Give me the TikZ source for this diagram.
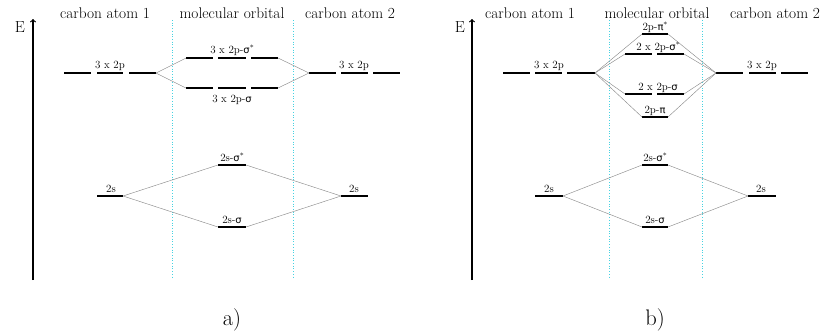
\documentclass[tikz,border=0pt]{standalone}
\usepackage{fontspec}
\newfontfamily\gk[Scale=0.9]{DejaVu Sans}
\newcommand\sig{{\gk σ}}
\newcommand\pii{{\gk π}}
\newcommand\st{\raisebox{0.55ex}{\fontsize{7.5}{8}\selectfont *}}
\newcommand\mylev[4]{\draw[lvl] (#2,#4) coordinate (#1l) -- (#3,#4) coordinate (#1r);}
\definecolor{sepcol}{RGB}{70,210,225}
\begin{document}
\begin{tikzpicture}[x=1pt,y=-1pt,
  lvl/.style={line width=1.3pt,black},
  conn/.style={black!45,line width=0.45pt},
  sep/.style={sepcol,dotted,line width=0.7pt},
  axis/.style={->,line width=1.2pt,black},
  ttl/.style={font=\fontsize{15.4}{17}\selectfont,anchor=base,inner sep=0pt},
  elab/.style={font=\fontsize{16}{18}\selectfont,inner sep=0pt},
  lab/.style={font=\fontsize{11}{12}\selectfont,anchor=base,inner sep=0pt},
  panelcap/.style={font=\fontsize{22.5}{26}\selectfont,inner sep=0pt}]
\useasboundingbox (0,0) rectangle (823,335);

% ===== panel a =====
\node[ttl] (at1) at (105,18) {carbon atom 1};
\node[ttl] (at2) at (232,18) {molecular orbital};
\node[ttl] (at3) at (350,18) {carbon atom 2};
\node[elab] (aE) at (20,27.5) {E};
\coordinate (aAxB) at (33,280); \coordinate (aAxT) at (33,19);
\draw[axis] (aAxB) -- (aAxT);
\coordinate (aS1t) at (172,20); \coordinate (aS1b) at (172,278);
\coordinate (aS2t) at (293,20); \coordinate (aS2b) at (293,278);
\draw[sep] (aS1t) -- (aS1b);
\draw[sep] (aS2t) -- (aS2b);

\mylev{aLpA}{64}{91}{73}\mylev{aLpB}{97}{123}{73}\mylev{aLpC}{129}{156}{73}
\mylev{aRpA}{309}{336}{73}\mylev{aRpB}{341}{368}{73}\mylev{aRpC}{373}{400}{73}
\mylev{aSsA}{186}{213}{58}\mylev{aSsB}{218}{246}{58}\mylev{aSsC}{251}{278}{58}
\mylev{aSA}{186}{213}{88}\mylev{aSB}{218}{246}{88}\mylev{aSC}{251}{278}{88}
\node[lab] (aLpLab) at (110,68) {3 x 2p};
\node[lab] (aRpLab) at (354,68) {3 x 2p};
\node[lab] (aSsLab) at (232,53) {3 x 2p-\sig\st};
\node[lab] (aSLab) at (232,102) {3 x 2p-\sig};
\draw[conn] (aLpCr) -- (aSsAl);
\draw[conn] (aLpCr) -- (aSAl);
\draw[conn] (aSsCr) -- (aRpAl);
\draw[conn] (aSCr) -- (aRpAl);

\mylev{aL2s}{97}{123}{196}\mylev{aR2s}{341}{368}{196}
\mylev{aM2ss}{218}{246}{165}\mylev{aM2s}{218}{246}{227}
\node[lab] (aL2sLab) at (111,192) {2s};
\node[lab] (aR2sLab) at (354,192) {2s};
\node[lab] (aM2ssLab) at (232,161) {2s-\sig\st};
\node[lab] (aM2sLab) at (232,223) {2s-\sig};
\draw[conn] (aL2sr) -- (aM2ssl);
\draw[conn] (aL2sr) -- (aM2sl);
\draw[conn] (aM2ssr) -- (aR2sl);
\draw[conn] (aM2sr) -- (aR2sl);
\node[panelcap] (acap) at (232,320) {a)};

% ===== panel b =====
\node[ttl] (bt1) at (530,18) {carbon atom 1};
\node[ttl] (bt2) at (657,18) {molecular orbital};
\node[ttl] (bt3) at (775,18) {carbon atom 2};
\node[elab] (bE) at (460,27.5) {E};
\coordinate (bAxB) at (472,280); \coordinate (bAxT) at (472,19);
\draw[axis] (bAxB) -- (bAxT);
\coordinate (bS1t) at (609,20); \coordinate (bS1b) at (609,278);
\coordinate (bS2t) at (702,20); \coordinate (bS2b) at (702,278);
\draw[sep] (bS1t) -- (bS1b);
\draw[sep] (bS2t) -- (bS2b);

\mylev{bLpA}{503}{530}{73}\mylev{bLpB}{535}{562}{73}\mylev{bLpC}{567}{595}{73}
\mylev{bRpA}{716}{743}{73}\mylev{bRpB}{749}{776}{73}\mylev{bRpC}{781}{808}{73}
\mylev{bPs}{642}{668}{34}
\mylev{bSsA}{625}{652}{54}\mylev{bSsB}{657}{684}{54}
\mylev{bSA}{625}{652}{94}\mylev{bSB}{657}{684}{94}
\mylev{bP}{642}{668}{117}
\node[lab] (bLpLab) at (549,68) {3 x 2p};
\node[lab] (bRpLab) at (762,68) {3 x 2p};
\node[lab] (bPsLab) at (655,30) {2p-\pii\st};
\node[lab] (bSsLab) at (658,50) {2 x 2p-\sig\st};
\node[lab] (bSLab) at (658,90) {2 x 2p-\sig};
\node[lab] (bPLab) at (655,113) {2p-\pii};
\draw[conn] (bLpCr) -- (bPsl);
\draw[conn] (bLpCr) -- (bSsAl);
\draw[conn] (bLpCr) -- (bSAl);
\draw[conn] (bLpCr) -- (bPl);
\draw[conn] (bPsr) -- (bRpAl);
\draw[conn] (bSsBr) -- (bRpAl);
\draw[conn] (bSBr) -- (bRpAl);
\draw[conn] (bPr) -- (bRpAl);

\mylev{bL2s}{535}{563}{196}\mylev{bR2s}{748}{776}{196}
\mylev{bM2ss}{642}{668}{165}\mylev{bM2s}{642}{668}{227}
\node[lab] (bL2sLab) at (549,192) {2s};
\node[lab] (bR2sLab) at (761,192) {2s};
\node[lab] (bM2ssLab) at (655,161) {2s-\sig\st};
\node[lab] (bM2sLab) at (655,223) {2s-\sig};
\draw[conn] (bL2sr) -- (bM2ssl);
\draw[conn] (bL2sr) -- (bM2sl);
\draw[conn] (bM2ssr) -- (bR2sl);
\draw[conn] (bM2sr) -- (bR2sl);
\node[panelcap] (bcap) at (655,320) {b)};
\end{tikzpicture}
\end{document}
